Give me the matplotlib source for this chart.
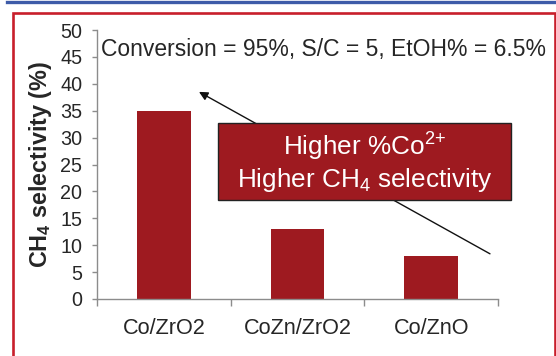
import matplotlib
matplotlib.use("Agg")
import matplotlib.pyplot as plt
from matplotlib.patches import Rectangle
from matplotlib.lines import Line2D


# -------- DATA --------
catalysts = ["Co/ZrO2", "CoZn/ZrO2", "Co/ZnO"]
ch4_selectivity = [35, 13, 8]
y_ticks = [0, 5, 10, 15, 20, 25, 30, 35, 40, 45, 50]

conditions = "Conversion = 95%, S/C = 5, EtOH% = 6.5%"
box_lines = ["Higher %Co$^{\\text{2+}}$", "Higher CH$_{\\mathrm{4}}$ selectivity"]

bar_color = "#9e1a20"
axis_color = "#8c8c8c"
text_color = "#262626"

plt.rcParams["font.family"] = ["Liberation Sans", "DejaVu Sans"]
plt.rcParams["mathtext.fontset"] = "custom"
plt.rcParams["mathtext.rm"] = "Liberation Sans"
plt.rcParams["mathtext.it"] = "Liberation Sans:italic"
plt.rcParams["mathtext.bf"] = "Liberation Sans:bold"


# -------- FIGURE --------
W, H = 556, 356
fig = plt.figure(figsize=(W / 100, H / 100), dpi=100)
fig.patch.set_facecolor("white")

# frame decorations (blue strip at top, red box around chart)
fig.add_artist(Line2D([7 / W, 554 / W], [1 - 1.5 / H, 1 - 1.5 / H],
                      transform=fig.transFigure, color="#3d5ba8", lw=2.4))
fig.add_artist(Rectangle((12.5 / W, -0.1), 542 / W, 1.1 - 12.5 / H,
                         transform=fig.transFigure, fill=False,
                         edgecolor="#c81e2b", lw=1.9))

ax = fig.add_axes([97 / W, 1 - 299 / H, 401 / W, 269 / H])

x = list(range(len(catalysts)))
ax.bar(x, ch4_selectivity, width=0.4, color=bar_color, zorder=2)

ax.set_xlim(-0.5, len(catalysts) - 0.5)
ax.set_ylim(0, 50)
ax.set_yticks(y_ticks)
ax.set_xticks(x)
ax.set_xticklabels(catalysts, fontsize=15.6, color=text_color)
ax.set_xticks([i - 0.5 for i in range(len(catalysts) + 1)], minor=True)

ax.tick_params(axis="x", which="major", length=0, pad=14)
ax.tick_params(axis="x", which="minor", length=5, width=1, color=axis_color)
ax.tick_params(axis="y", length=3.6, width=1, color=axis_color,
               labelsize=14.2, labelcolor=text_color, pad=7)

for s in ["top", "right"]:
    ax.spines[s].set_visible(False)
for s in ["left", "bottom"]:
    ax.spines[s].set_color(axis_color)
    ax.spines[s].set_linewidth(1)

ax.set_ylabel("CH$_{\\mathbf{4}}$ selectivity (%)", fontsize=16.8, fontweight="bold",
              color=text_color)
ax.yaxis.set_label_coords(-0.108, 0.5)

# conditions text
ax.text(0.009, 0.927, conditions, transform=ax.transAxes, fontsize=16.5,
        color=text_color, va="center", ha="left", clip_on=False)

# arrow from the Co/ZnO bar towards Co/ZrO2
ax.annotate("", xy=(0.263, 38.5), xytext=(2.44, 8.4),
            arrowprops=dict(arrowstyle="-|>", color="#111111", lw=1.0,
                            mutation_scale=13, shrinkA=0, shrinkB=0),
            annotation_clip=False, zorder=3)

# red label box
bx0, bx1 = 0.405, 2.597
by0, by1 = 18.4, 32.7
ax.add_patch(Rectangle((bx0, by0), bx1 - bx0, by1 - by0, facecolor=bar_color,
                       edgecolor="#222222", lw=1.0, clip_on=False, zorder=4))
cx = (bx0 + bx1) / 2
ax.text(cx, 28.3, box_lines[0], color="white", fontsize=18.8, ha="center",
        va="center", zorder=5)
ax.text(cx, 22.2, box_lines[1], color="white", fontsize=18.8, ha="center",
        va="center", zorder=5)

fig.savefig("out.png", dpi=100)
